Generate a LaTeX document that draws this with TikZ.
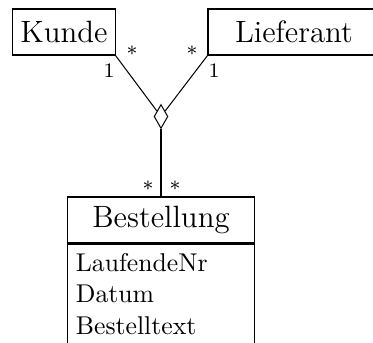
\documentclass[tikz,border=0pt]{standalone}
\usetikzlibrary{shapes.geometric}
\begin{document}
\begin{tikzpicture}[x=0.389pt, y=-0.389pt,
    klasse/.style={draw, rectangle, inner sep=0pt, minimum height=17.9pt, font=\large},
    mult/.style={inner sep=0pt, font=\footnotesize}]
    \useasboundingbox (0,0) rectangle (373,343);
    \clip (0,0) rectangle (373,343);

    % Klassen
    \node[klasse, minimum width=39.7pt] (kunde) at (64, 32) {Kunde};
    \node[klasse, minimum width=66.9pt] (lieferant) at (294, 32) {Lieferant};
    \node[klasse, minimum width=72.4pt] (bestellung) at (161, 220) {Bestellung};
    \node[draw, anchor=north, inner xsep=3.1pt, inner ysep=3.6pt, text width=66.2pt,
        align=left, font=\fontsize{10}{12.25}\selectfont] (attribute)
        at (bestellung.south) {LaufendeNr\\Datum\\Bestelltext\\[6pt]};

    % Aggregation
    \node[diamond, draw, inner sep=0pt, minimum width=5.4pt, minimum height=9.3pt]
        (diamant) at (161, 116.5) {};
    \draw (kunde.south east) -- (diamant);
    \draw (lieferant.south west) -- (diamant);
    \draw (diamant.south) -- (bestellung.north);

    % Multiplizitaeten
    \node[mult] (m1) at (132, 51) {$*$};
    \node[mult] (m2) at (109, 71) {1};
    \node[mult] (m3) at (192, 51) {$*$};
    \node[mult] (m4) at (214, 71) {1};
    \node[mult] (m5) at (148, 186) {$*$};
    \node[mult] (m6) at (175, 186) {$*$};
\end{tikzpicture}
\end{document}
